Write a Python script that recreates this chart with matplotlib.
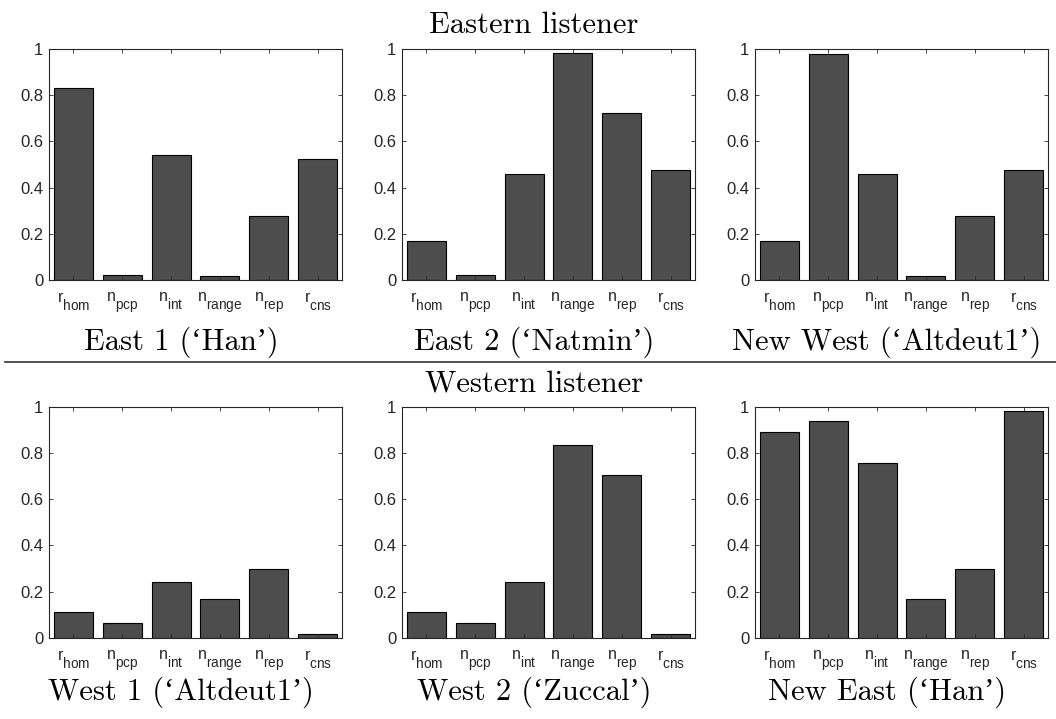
import matplotlib
matplotlib.use("Agg")
import matplotlib.pyplot as plt
from matplotlib.lines import Line2D
import matplotlib._mathtext as _mt

# ---------------- data ----------------
feature_labels = [r"$\mathrm{r_{hom}}$", r"$\mathrm{n_{pcp}}$", r"$\mathrm{n_{int}}$",
                  r"$\mathrm{n_{range}}$", r"$\mathrm{n_{rep}}$", r"$\mathrm{r_{cns}}$"]

east1 = [0.830, 0.022, 0.543, 0.017, 0.277, 0.522]
east2 = [0.169, 0.022, 0.457, 0.983, 0.721, 0.476]
new_west = [0.169, 0.977, 0.457, 0.017, 0.277, 0.476]
west1 = [0.110, 0.062, 0.242, 0.167, 0.296, 0.017]
west2 = [0.110, 0.062, 0.242, 0.833, 0.703, 0.017]
new_east = [0.889, 0.938, 0.758, 0.167, 0.296, 0.983]

top_titles = ["East 1 (\u2018Han\u2019)", "East 2 (\u2018Natmin\u2019)", "New West (\u2018Altdeut1\u2019)"]
bottom_titles = ["West 1 (\u2018Altdeut1\u2019)", "West 2 (\u2018Zuccal\u2019)", "New East (\u2018Han\u2019)"]
row_titles = ["Eastern listener", "Western listener"]
yticks = [0, 0.2, 0.4, 0.6, 0.8, 1]
ytick_labels = ["0", "0.2", "0.4", "0.6", "0.8", "1"]

# ---------------- style ----------------
plt.rcParams['mathtext.fontset'] = 'custom'
plt.rcParams['mathtext.rm'] = 'Liberation Sans'
plt.rcParams['mathtext.it'] = 'Liberation Sans'
plt.rcParams['font.family'] = ['Liberation Sans', 'DejaVu Sans']
_mt.SHRINK_FACTOR = 0.85
_mt.FontConstantsBase.sub1 = 0.95
_mt.FontConstantsBase.subdrop = 0.95

W, H = 1056, 719
fig = plt.figure(figsize=(W / 100, H / 100), dpi=100)

ax_lefts = [49, 402, 755]
ax_w = 293
row_tops = [49, 406.7]
ax_h = 231

serif = ['cmr10', 'Liberation Serif']
axcol = '#262626'

data_rows = [[east1, east2, new_west], [west1, west2, new_east]]
title_rows = [top_titles, bottom_titles]
subtitle_baselines = [350, 700]
row_title_baselines = [33, 391]

x = list(range(1, len(feature_labels) + 1))

for r in range(2):
    for c in range(3):
        l = ax_lefts[c]
        t = row_tops[r]
        ax = fig.add_axes([l / W, 1 - (t + ax_h) / H, ax_w / W, ax_h / H])
        ax.bar(x, data_rows[r][c], width=0.8, color='#4d4d4d', edgecolor='black', linewidth=0.8, zorder=2)
        ax.set_xlim(0.5, 6.5)
        ax.set_ylim(0, 1)
        ax.set_xticks(x)
        ax.set_xticklabels(feature_labels)
        ax.set_yticks(yticks)
        ax.set_yticklabels(ytick_labels)
        ax.tick_params(axis='both', direction='in', length=3, width=0.6, color=axcol,
                       top=True, right=True, labelcolor=axcol)
        ax.tick_params(axis='y', labelsize=12, pad=4)
        ax.tick_params(axis='x', labelsize=11.5, pad=7.5)
        for s in ax.spines.values():
            s.set_color(axcol)
            s.set_linewidth(0.8)
        ax.set_axisbelow(False)
        cx = (l + ax_w / 2 - 14.5) / W
        fig.text(cx, 1 - subtitle_baselines[r] / H, title_rows[r][c], family=serif,
                 fontsize=22, ha='center', va='baseline', color='black')
    fig.text(534 / W, 1 - row_title_baselines[r] / H, row_titles[r], family=serif,
             fontsize=22, ha='center', va='baseline', color='black')

fig.add_artist(Line2D([5 / W, 1.0], [1 - 361.7 / H, 1 - 361.7 / H], transform=fig.transFigure,
                      color='#333333', linewidth=1.2))

fig.savefig("out.png", dpi=100)
